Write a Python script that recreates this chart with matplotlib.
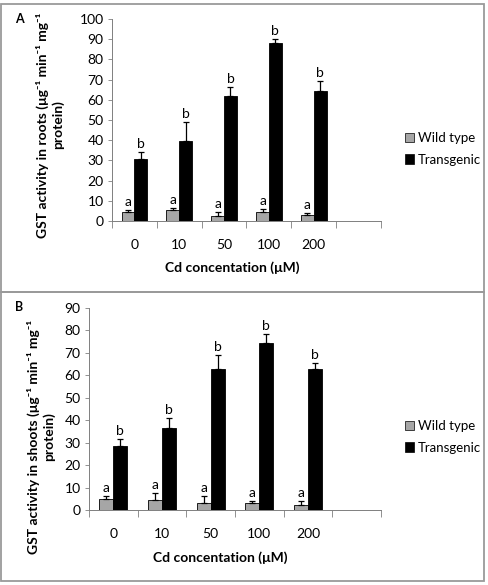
import matplotlib
matplotlib.use('Agg')
import matplotlib.pyplot as plt
from matplotlib.patches import Rectangle, Patch
import numpy as np

plt.rcParams['font.family'] = ['Lato', 'DejaVu Sans']

# ---- data ----
conc_labels = ['0', '10', '50', '100', '200']

roots_wild = [4.3, 5.3, 2.3, 4.6, 2.8]
roots_wild_err = [1.1, 1.0, 2.3, 1.2, 1.2]
roots_trans = [30.5, 39.8, 62.0, 88.1, 64.4]
roots_trans_err = [3.5, 9.2, 4.5, 1.9, 4.9]

shoots_wild = [4.8, 4.6, 3.1, 3.0, 2.2]
shoots_wild_err = [1.6, 2.8, 3.3, 1.2, 1.7]
shoots_trans = [28.7, 36.6, 62.6, 74.6, 62.6]
shoots_trans_err = [3.1, 4.3, 6.3, 3.8, 3.0]

wild_letters = ['a'] * 5
trans_letters = ['b'] * 5

GRAY = '#a6a6a6'
W, H = 489, 585

fig = plt.figure(figsize=(W / 100, H / 100), dpi=100)

# panel borders
for (y0, y1) in [(4, 292), (292, 581)]:
    fig.patches.append(Rectangle((1.5 / W, 1 - y1 / H), (484 - 1.5) / W, (y1 - y0) / H,
                                 transform=fig.transFigure, fill=False,
                                 edgecolor='#9a9a9a', linewidth=1.3))


def panel(rect, wild, wild_err, trans, trans_err, ymax, ylabel, letter, letter_xy,
          ylab_xy, xlab_y, leg_y):
    ax = fig.add_axes(rect)
    x = np.arange(len(conc_labels)) + 0.5
    w = 0.286
    ekw = dict(ecolor='black', elinewidth=0.9, capsize=2.5, capthick=0.9)
    ax.bar(x - w / 2, wild, w, color=GRAY, edgecolor='black', linewidth=0.6,
           yerr=[np.zeros(5), wild_err], error_kw=ekw, label='Wild type')
    ax.bar(x + w / 2, trans, w, color='black', edgecolor='black', linewidth=0.6,
           yerr=[np.zeros(5), trans_err], error_kw=ekw, label='Transgenic')
    off = ymax * 0.01
    for i in range(5):
        ax.text(x[i] - w / 2, wild[i] + wild_err[i] + off, wild_letters[i],
                ha='center', va='bottom', fontsize=10)
        ax.text(x[i] + w / 2, trans[i] + trans_err[i] + off, trans_letters[i],
                ha='center', va='bottom', fontsize=10)
    ax.set_xlim(0, 6)
    ax.set_ylim(0, ymax)
    ax.set_yticks(np.arange(0, ymax + 1, 10))
    ax.set_xticks(np.arange(0, 7))
    ax.set_xticklabels([])
    ax.set_xticks(x, conc_labels, minor=True)
    ax.tick_params(axis='x', which='major', length=5, direction='out', width=0.6, color='#7f7f7f')
    ax.tick_params(axis='x', which='minor', length=0, pad=13, labelsize=10)
    ax.tick_params(axis='y', length=3, width=0.6, color='#7f7f7f', labelsize=10, pad=3)
    for s in ['top', 'right']:
        ax.spines[s].set_visible(False)
    for s in ['left', 'bottom']:
        ax.spines[s].set_color('#7f7f7f')
        ax.spines[s].set_linewidth(0.7)

    fig.text(ylab_xy[0] / W, 1 - ylab_xy[1] / H, ylabel, rotation=90, ha='center', va='center',
             fontsize=10, fontweight='bold', linespacing=1.2)
    fig.text((rect[0] + rect[2] / 2) - 0.03, 1 - xlab_y / H, 'Cd concentation (μM)', ha='center',
             va='center', fontsize=10, fontweight='bold')
    fig.text(letter_xy[0] / W, 1 - letter_xy[1] / H, letter, ha='center', va='center',
             fontsize=9, fontweight='bold')
    handles = [Patch(facecolor=GRAY, edgecolor='black', linewidth=0.5),
               Patch(facecolor='black', edgecolor='black', linewidth=0.5)]
    fig.legend(handles, ['Wild type', 'Transgenic'], loc='center left',
               bbox_to_anchor=(398 / W, 1 - leg_y / H), frameon=False, fontsize=9.5,
               handlelength=0.7, handleheight=0.7, handletextpad=0.3, labelspacing=0.7,
               borderpad=0)
    return ax


panel([112 / W, 1 - 221 / H, (381 - 112) / W, (221 - 19) / H],
      roots_wild, roots_wild_err, roots_trans, roots_trans_err, 100,
      'GST activity in roots (μg⁻¹ min⁻¹ mg⁻¹\nprotein)', 'A', (19, 19), (50, 125), 268, 149)

panel([89 / W, 1 - 510 / H, (381 - 89) / W, (510 - 308) / H],
      shoots_wild, shoots_wild_err, shoots_trans, shoots_trans_err, 90,
      'GST activity in shoots (μg⁻¹ min⁻¹ mg⁻¹\nprotein)', 'B', (19, 307), (41, 437), 558, 437)

fig.savefig('out.png', dpi=100)
